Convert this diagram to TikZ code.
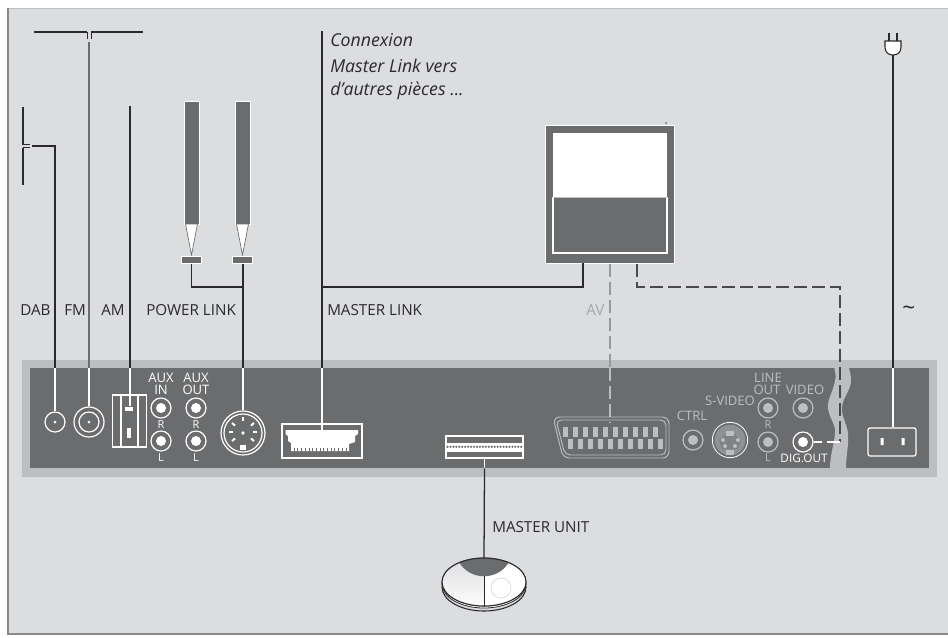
\documentclass[tikz,border=0pt]{standalone}
\usepackage{fontspec}
\setmainfont{Open Sans}
\definecolor{bgc}{HTML}{DCDDDF}
\definecolor{stripc}{HTML}{BDBEC0}
\definecolor{darkc}{HTML}{6B6C6E}
\definecolor{linec}{HTML}{2A2A2C}
\definecolor{greyt}{HTML}{B4B5B7}
\tikzset{
  wire/.style={draw=linec,line width=0.95pt},
  antline/.style={draw=linec,line width=1.2pt},
  wwire/.style={draw=white,line width=0.9pt},
  gdash/.style={draw=darkc!70,line width=0.8pt,dash pattern=on 10pt off 3.5pt},
  kdash/.style={draw=linec!85,line width=0.8pt,dash pattern=on 10pt off 3.5pt},
  jackw/.style={circle,draw=white,line width=0.9pt,minimum size=15pt,inner sep=0pt},
  jackg/.style={circle,draw=stripc,line width=0.9pt,minimum size=15pt,inner sep=0pt},
  dotw/.style={circle,fill=white,minimum size=7.5pt,inner sep=0pt},
  dotg/.style={circle,fill=stripc,minimum size=7.5pt,inner sep=0pt},
  lab/.style={font=\fontsize{11.4}{13}\selectfont,text=linec,anchor=west,inner sep=0pt},
  ital/.style={lab,font=\fontsize{13.3}{14}\itshape},
  pl/.style={font=\fontsize{9.8}{9.8}\selectfont,text=white,inner sep=0pt},
  pg/.style={font=\fontsize{9.8}{9.8}\selectfont,text=stripc,inner sep=0pt},
  speaker/.style={rectangle,fill=darkc,draw=white,line width=0.4pt,minimum width=11.5pt,minimum height=92pt,inner sep=0pt},
  foot/.style={rectangle,fill=darkc,draw=white,line width=0.4pt,minimum width=15pt,minimum height=5pt,inner sep=0pt},
  box/.style={rectangle,draw=white,line width=0.9pt,inner sep=0pt}
}
\begin{document}
\begin{tikzpicture}[x=0.75pt,y=-0.75pt]
\useasboundingbox (0,0) rectangle (948,637);
\fill[white] (0,0) rectangle (948,637);
\fill[bgc] (8,8) rectangle (948,634);
\draw[stripc,line width=0.6pt] (948,8) -- (8,8);
\draw[darkc!80,line width=0.8pt] (8,8) -- (8,634) -- (948,634);
% panel
\fill[stripc] (22,360) rectangle (937,477);
\node[rectangle,fill=darkc,minimum width=674.25pt,minimum height=75pt,inner sep=0pt] (panel) at (479.5,418) {};
% wave break
\fill[stripc] (833,360) .. controls (834,370) and (837,375) .. (835,381) .. controls (833,392) and (827,400) .. (828,408) .. controls (829,418) and (836,424) .. (835,433) .. controls (834,445) and (830,455) .. (830,468) -- (830,477) -- (846,477) -- (846,468) .. controls (846,455) and (849,445) .. (848,433) .. controls (847,424) and (841,416) .. (842,407) .. controls (843,397) and (851,390) .. (851,380) .. controls (851,372) and (848,368) .. (848,360) -- cycle;
% jacks
\node[jackw] (dab) at (55,422) {};
\fill[white] (dab.center) circle (1.5);
\node[circle,draw=white,line width=0.9pt,minimum size=22.5pt,inner sep=0pt] (fm) at (89,422) {};
\node[circle,draw=white,line width=0.9pt,minimum size=15pt,inner sep=0pt] (fmi) at (89,422) {};
\fill[white] (fm.center) circle (1.5);
% AM
\node[box,minimum width=26pt,minimum height=39pt] (am) at (129.5,421) {};
\draw[wwire] (121,395) -- (121,447) (138,395) -- (138,447);
\node[rectangle,fill=white,minimum width=6pt,minimum height=3pt,inner sep=0pt] (ampin) at (129,408.5) {};
\fill[white] (127,428) rectangle (131,438);
% AUX
\node[pl] at (161,377.5) {AUX};
\node[pl] at (161,390) {IN};
\node[pl] at (196,377.5) {AUX};
\node[pl] at (196,390) {OUT};
\foreach \x/\n in {161/a,196/b}{
  \node[jackw] (\n r) at (\x,408) {};
  \node[dotw] at (\x,408) {};
  \node[jackw] (\n l) at (\x,441) {};
  \node[dotw] at (\x,441) {};
  \node[pl,font=\fontsize{8.2}{8.2}\selectfont] at (\x,425) {R};
  \node[pl,font=\fontsize{8.2}{8.2}\selectfont] at (\x,458) {L};
}
% DIN
\node[circle,draw=white,line width=0.9pt,minimum size=33pt,inner sep=0pt] (din) at (243,433) {};
\node[circle,draw=white,line width=0.9pt,minimum size=28.5pt,inner sep=0pt] (dini) at (243,433) {};
\foreach \dx/\dy/\a in {-14/-1/0,-11/-10/40,0/-16/90,11/-10/140,14/-1/180,-11/8/-40,11/8/-140}{
  \draw[white,line width=1.5pt] (243+\dx,433+\dy) -- +({4*cos(\a)},{4*sin(\a)});
}
\fill[white] (243,433) circle (1.8);
\fill[white] (240,445) rectangle (246,450);
% Master link socket
\node[box,minimum width=60pt,minimum height=25.5pt] (mls) at (322,441) {};
\fill[white] (285.5,430) -- (358,430) -- (358,434) -- (355,436) -- (355,442) -- (349,444) -- (349,451) -- (291,451) -- (291,443) -- (288,441) -- (288,436) -- (285.5,434) -- cycle;
\foreach \i in {0,...,14}{\draw[darkc,line width=0.35pt] (294+\i*3.7,447.5) -- (294+\i*3.7,451);}
\coordinate (mlstop) at (322,430);
% Master unit socket
\node[box,minimum width=57.75pt,minimum height=16.5pt] (mu) at (484.5,447) {};
\fill[white] (446,442.7) rectangle (523,451.5);
\foreach \i in {0,...,25}{\fill[darkc] (447.5+\i*2.95,446.8) circle (1.2);}
% Scart
\draw[stripc,line width=0.7pt,rounded corners=5pt] (553,417) -- (669,417) -- (669,458) -- (563,458) -- cycle;
\draw[stripc,line width=0.7pt,rounded corners=4pt] (556,420) -- (666,420) -- (666,455) -- (565,455) -- cycle;
\node[minimum size=0pt,inner sep=0pt] (scart) at (610,423) {};
\foreach \i in {0,...,9}{\fill[stripc] (563+\i*10,427) rectangle +(5,10);}
\fill[stripc] (653,427) rectangle +(5,10);
\foreach \i in {0,...,9}{\fill[stripc] (568+\i*10,438.5) rectangle +(5,10);}
% CTRL
\node[pg] at (692,416) {CTRL};
\node[jackg] (ctrl) at (693,440) {};
\node[dotg] at (693,440) {};
% S-video
\node[circle,draw=white,line width=0.6pt,minimum size=26.5pt,inner sep=0pt] (sv) at (730,440) {};
\node[circle,fill=darkc!55!stripc,minimum size=23pt,inner sep=0pt] (svi) at (730,440) {};
\fill[darkc!85] (725,434) -- (735,434) -- (741,440) -- (738,449) -- (722,449) -- (719,440) -- cycle;
\fill[stripc] (726,431) rectangle (734,436);
\fill[stripc] (723,440) circle (2) (738,440) circle (2) (725,446) circle (2) (735,446) circle (2);
\fill[stripc] (726,450) rectangle (734,455);
\node[pg] at (730,401) {S-VIDEO};
\node[pg] at (768,377.5) {LINE};
\node[pg] at (767,390) {OUT};
\node[pg] at (805,390) {VIDEO};
\node[jackg] (lr) at (768,408) {};
\node[dotg] at (768,408) {};
\node[jackg] (ll) at (768,442) {};
\node[dotg] at (768,442) {};
\node[pg,font=\fontsize{8.2}{8.2}\selectfont] at (768,425) {R};
\node[pg,font=\fontsize{8.2}{8.2}\selectfont] at (768,458) {L};
\node[jackg] (vid) at (803,408) {};
\node[dotg] at (803,408) {};
\node[jackw] (dig) at (803,442) {};
\node[dotw] at (803,442) {};
\node[pl,font=\fontsize{8.8}{8.8}\selectfont] at (804,458) {DIG.OUT};
% Mains socket
\node[box,minimum width=36pt,minimum height=21pt,rounded corners=1.5pt] (mains) at (892,442) {};
\fill[white] (880.5,438) rectangle (883.5,445) (901.5,438) rectangle (904.5,445);
% Speakers
\foreach \x/\n in {191.5/s,242.5/t}{
  \node[speaker] (\n box) at (\x,163) {};
  \draw[fill=white,draw=darkc,line width=0.5pt] (\x-6,224) -- (\x+6,224) -- (\x,255) -- cycle;
  \node[foot] (\n foot) at (\x,260) {};
}
% TV
\node[rectangle,fill=darkc,draw=white,line width=0.5pt,minimum width=97pt,minimum height=103.5pt,inner sep=0pt] (tv) at (609.5,194) {};
\fill[white] (553,133) rectangle (667,197);
\draw[fill=darkc,draw=white,line width=0.9pt] (553,197.5) rectangle (667,253);
\draw[stripc,line width=0.5pt] (553,197) -- (667,197);
\fill[darkc] (666,123) circle (1);
% Remote
\coordinate (remote) at (484,558);
\draw[fill=bgc,draw=linec,line width=0.8pt] (484,587) ellipse (42 and 24);
\draw[fill=white,draw=linec,line width=0.6pt] (484,584) ellipse (42 and 24);
\draw[fill=white,draw=linec,line width=0.6pt] (484,582) ellipse (42 and 24);
\begin{scope}
\clip (484,582) ellipse (42 and 24);
\shade[top color=bgc,bottom color=white] (440,556) rectangle (484,610);
\fill[white] (484,556) rectangle (530,610);
\fill[darkc] (458,556) -- (459,562) .. controls (470,581) and (498,581) .. (509,562) -- (510,556) -- cycle;
\end{scope}
\draw[bgc,line width=0.6pt] (501,588) circle (10);
\draw[linec,line width=0.7pt] (484,576) -- (484,606);
\draw[linec,line width=0.8pt] (484,582) ellipse (42 and 24);
% Plug
\coordinate (plugb) at (893,55);
\draw[fill=white,draw=linec,line width=0.8pt] (885,41) -- (901,41) -- (901,47) .. controls (901,52) and (898,55) .. (893,55) .. controls (888,55) and (885,52) .. (885,47) -- cycle;
\draw[antline] (889,33) -- (889,41) (897,33) -- (897,41);
% Antennas
\coordinate (fml) at (34,32); \coordinate (fmr) at (143,32);
\coordinate (fma) at (87,32); \coordinate (fmb) at (91,32);
\coordinate (fmt) at (89,42);
\draw[antline] (fml) -- (fma);
\draw[antline] (fmr) -- (fmb);
\draw[wire,line width=0.7pt] (fma) -- +(0,7);
\draw[wire,line width=0.7pt] (fmb) -- +(0,7);
\coordinate (dabt) at (23,107); \coordinate (dabb) at (23,185);
\coordinate (daba) at (23,144.5); \coordinate (dabc) at (23,147.5);
\draw[antline] (dabt) -- (daba);
\draw[antline] (dabb) -- (dabc);
\draw[wire,line width=0.7pt] (daba) -- +(7,0);
\draw[wire,line width=0.7pt] (dabc) -- +(7,0);
\coordinate (dabw) at (32,146); \coordinate (dabk) at (55,146);
\draw[wire] (dabw) -- (dabk) -- (dabk |- panel.north);
\draw[wwire] (dabk |- panel.north) -- (dab.north);
\draw[wire,draw=darkc,line width=1.3pt] (fmt) -- (fmt |- panel.north);
\draw[wwire] (fmt |- panel.north) -- (fm.north);
\coordinate (amt) at (130,106);
\draw[wire,line width=0.85pt] (amt) -- (amt |- panel.north);
\draw[wwire] (amt |- panel.north) -- (ampin.north -| amt);
% Power link
\coordinate (pj) at (243,287);
\draw[wire] (sfoot.south) -- (sfoot.south |- pj) -- (pj);
\draw[wire] (tfoot.south -| pj) -- (pj |- panel.north);
\draw[wwire] (pj |- panel.north) -- (din.north);
% Master link
\coordinate (mlt) at (322,31);
\draw[wire] (mlt) -- (mlt |- panel.north);
\draw[wwire] (mlt |- panel.north) -- (mlstop);
\coordinate (tvk) at (583,263);
\draw[wire] (tvk) -- (583,287) -- (322,287);
% AV
\coordinate (avt) at (610,264);
\draw[gdash] (avt) -- (avt |- panel.north);
\draw[stripc,line width=0.8pt,dash pattern=on 10pt off 3.5pt] (avt |- panel.north) -- (scart);
% Dig out
\coordinate (dgt) at (637,264);
\coordinate (dgc) at (840,287);
\coordinate (dgd) at (840,442);
\draw[kdash] (dgt) -- (637,287) -- (dgc) -- (dgd);
\draw[white,line width=0.9pt,dash pattern=on 10pt off 3.5pt] (dgd) -- (dig.east);
% Mains
\draw[wire] (plugb) -- (plugb |- panel.north);
\draw[wwire] (plugb |- panel.north) -- (mains.north -| plugb);
% Master unit
\draw[wwire] (mu.south) -- (mu.south |- panel.south);
\draw[wire] (mu.south |- panel.south) -- (remote);
% Labels
\node[lab] at (20,310) {DAB};
\node[lab] at (64,310) {FM};
\node[lab] at (101,310) {AM};
\node[lab] at (146,310) {POWER LINK};
\node[lab] at (327,310) {MASTER LINK};
\node[lab,text=greyt!80!darkc] at (586,310) {AV};
\node[lab,font=\fontsize{17}{17}\selectfont] at (902,311) {\symbol{126}};
\node[lab] at (492,527) {MASTER UNIT};
\node[ital] at (330,40) {Connexion};
\node[ital] at (330,66) {Master Link vers};
\node[ital] at (330,91) {d’autres pièces ...};
\end{tikzpicture}
\end{document}
